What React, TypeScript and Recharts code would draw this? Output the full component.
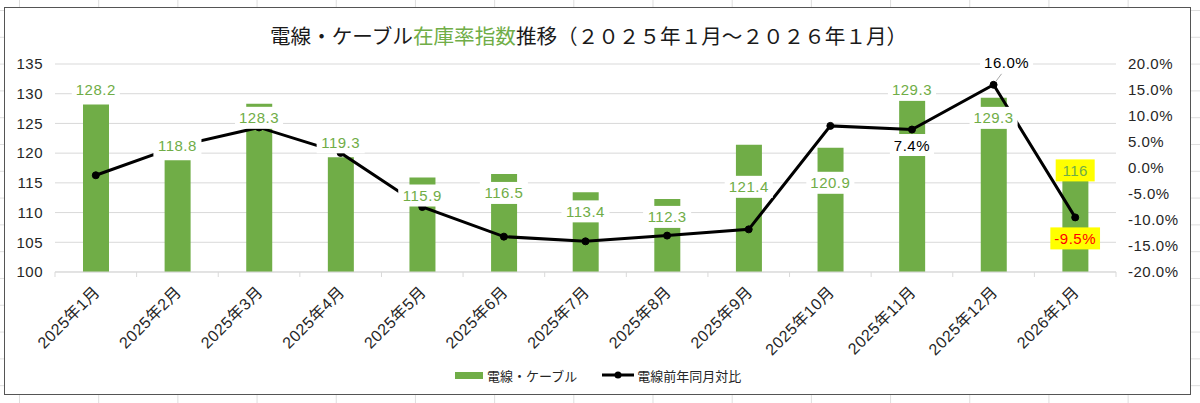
import React from "react";
import {
  ComposedChart,
  Bar,
  Line,
  XAxis,
  YAxis,
  CartesianGrid,
  LabelList,
  Legend,
} from "recharts";

const months = [
  "2025年1月",
  "2025年2月",
  "2025年3月",
  "2025年4月",
  "2025年5月",
  "2025年6月",
  "2025年7月",
  "2025年8月",
  "2025年9月",
  "2025年10月",
  "2025年11月",
  "2025年12月",
  "2026年1月",
];
const stockIndex = [128.2, 118.8, 128.3, 119.3, 115.9, 116.5, 113.4, 112.3, 121.4, 120.9, 129.3, 129.3, 116];
const yoyPct = [-1.4, 4.2, 7.8, 2.9, -7.5, -13.2, -14.1, -13.0, -11.8, 8.1, 7.4, 16.0, -9.5];
const leftTicks = [100, 105, 110, 115, 120, 125, 130, 135];
const rightTicks = [-20, -15, -10, -5, 0, 5, 10, 15, 20];

const BAR_NAME = "電線・ケーブル";
const LINE_NAME = "電線前年同月対比";

const GREEN = "#70AD47";
const TEXT = "#262626";
const FONT = "'Liberation Sans', Arial, 'Noto Sans CJK JP', sans-serif";
const CJK = "'Noto Sans CJK JP', sans-serif";

// chart geometry
const CHART_W = 1185;
const CHART_H = 386;
const LEFT_W = 50;
const RIGHT_W = 74;
const BAND = (CHART_W - LEFT_W - RIGHT_W) / months.length;

// hand placed label offsets (Excel labels were dragged around)
const stockLabelDy = [-15, -15, 14, -15, 18, 19, 19, 18, 42, 35, -8, 20, -6.5];
const yoyLabelPos: Record<number, { dx: number; dy: number }> = {
  10: { dx: 0, dy: 15.5 },
  11: { dx: 13, dy: -22.6 },
  12: { dx: 0, dy: 21 },
};

const rows = months.map((m, i) => ({ month: m, stock: stockIndex[i], yoy: yoyPct[i] }));

function textWidth(s: string) {
  let w = 0;
  for (const c of s) {
    if (c === ".") w += 4.2;
    else if (c === "%") w += 13.3;
    else if (c === "-") w += 5;
    else w += 8.34;
    w += 0.5;
  }
  return w;
}

function LabelBox({ cx, cy, text, color, bg, minW = 0 }: any) {
  const w = Math.max(textWidth(text) + 8, minW);
  return (
    <g>
      <rect x={cx - w / 2} y={cy - 11} width={w} height={22} fill={bg} />
      <text
        x={cx}
        y={cy}
        textAnchor="middle"
        dominantBaseline="central"
        fill={color}
        fontSize={15}
        fontFamily={FONT}
        letterSpacing={0.5}
      >
        {text}
      </text>
    </g>
  );
}

function StockLabel(props: any) {
  const { x, y, index, value } = props;
  const last = index === months.length - 1;
  return (
    <LabelBox
      cx={x}
      cy={y + stockLabelDy[index]}
      text={String(value)}
      color={GREEN}
      bg={last ? "#FFFF00" : "#fff"}
      minW={last ? 39 : 0}
    />
  );
}

function YoyLabel(props: any) {
  const { x, y, index, value } = props;
  const pos = yoyLabelPos[index];
  if (!pos) return null;
  const last = index === months.length - 1;
  return (
    <g>
      {index === 11 && (
        <line x1={x + 2} y1={y - 3} x2={x + 8} y2={y - 11} stroke="#a6a6a6" strokeWidth={1} />
      )}
      <LabelBox
        cx={x + pos.dx}
        cy={y + pos.dy}
        text={`${Number(value).toFixed(1)}%`}
        color={last ? "#FF0000" : "#000"}
        bg={last ? "#FFFF00" : "#fff"}
      />
    </g>
  );
}

function MonthTick(props: any) {
  const { x, y, payload, index } = props;
  const half = BAND / 2;
  const ax = x + 5;
  const ay = y + 21;
  return (
    <g>
      <line x1={x - half} x2={x - half} y1={y} y2={y + 5} stroke="#d9d9d9" />
      {index === months.length - 1 && (
        <line x1={x + half} x2={x + half} y1={y} y2={y + 5} stroke="#d9d9d9" />
      )}
      <text
        x={ax}
        y={ay}
        transform={`rotate(-45 ${ax} ${ay})`}
        textAnchor="end"
        fill={TEXT}
        fontSize={16}
        fontFamily={FONT}
        letterSpacing={0.5}
      >
        {payload.value}
      </text>
    </g>
  );
}

function LegendContent() {
  return (
    <div
      style={{
        display: "flex",
        alignItems: "center",
        height: 20,
        fontSize: 13,
        fontFamily: CJK,
        color: TEXT,
        whiteSpace: "nowrap",
      }}
    >
      <span style={{ display: "inline-block", width: 28, height: 7, background: GREEN, marginRight: 4 }} />
      <span>{BAR_NAME}</span>
      <svg width={32} height={10} style={{ marginLeft: 25, marginRight: 3 }}>
        <line x1={0} y1={5} x2={32} y2={5} stroke="#000" strokeWidth={3} />
        <circle cx={16} cy={5} r={3.5} fill="#000" />
      </svg>
      <span>{LINE_NAME}</span>
    </div>
  );
}

export default function App() {
  return (
    <div
      style={{
        position: "relative",
        width: 1200,
        height: 403,
        overflow: "hidden",
        backgroundColor: "#fff",
        backgroundImage:
          "linear-gradient(to right, #dedede 1px, transparent 1px), linear-gradient(to bottom, #dedede 1px, transparent 1px)",
        backgroundSize: "79.2px 100%, 100% 26.8px",
        backgroundPosition: "19px 0, 0 10px",
      }}
    >
      <style>{`body{margin:0}`}</style>
      <div
        style={{
          position: "absolute",
          left: 4,
          top: 7,
          width: CHART_W,
          height: CHART_H,
          border: "1px solid #555",
          background: "#fff",
        }}
      >
        <div
          style={{
            position: "absolute",
            left: 265,
            top: 16,
            fontSize: 20.6,
            lineHeight: "22px",
            fontFamily: CJK,
            color: "#1a1a1a",
            whiteSpace: "nowrap",
            zIndex: 2,
          }}
        >
          電線・ケーブル<span style={{ color: GREEN }}>在庫率指数</span>推移（２０２５年１月～２０２６年１月）
        </div>
        <ComposedChart
          width={CHART_W}
          height={CHART_H}
          data={rows}
          margin={{ top: 56, right: 0, bottom: 0, left: 0 }}
        >
          <CartesianGrid vertical={false} stroke="#d9d9d9" yAxisId="left" />
          <XAxis
            dataKey="month"
            height={122}
            interval={0}
            axisLine={{ stroke: "#d9d9d9" }}
            tickLine={false}
            tickSize={0}
            tickMargin={0}
            tick={<MonthTick />}
          />
          <YAxis
            yAxisId="left"
            width={LEFT_W}
            domain={[100, 135]}
            ticks={leftTicks}
            axisLine={false}
            tickLine={false}
            tickSize={0}
            tickMargin={12}
            tick={{ fill: TEXT, fontSize: 15, fontFamily: FONT, letterSpacing: 0.5 }}
          />
          <YAxis
            yAxisId="right"
            orientation="right"
            width={RIGHT_W}
            domain={[-20, 20]}
            ticks={rightTicks}
            axisLine={false}
            tickLine={false}
            tickSize={0}
            tickMargin={12}
            tickFormatter={(v: number) => `${v.toFixed(1)}%`}
            tick={{ fill: TEXT, fontSize: 15, fontFamily: FONT, letterSpacing: 0.5 }}
          />
          <Legend
            verticalAlign="middle"
            content={<LegendContent />}
            wrapperStyle={{ left: 450, top: 357, width: 320, height: 20 }}
          />
          <Bar
            dataKey="stock"
            name={BAR_NAME}
            yAxisId="left"
            fill={GREEN}
            barSize={26}
            isAnimationActive={false}
          />
          <Line
            dataKey="yoy"
            name={LINE_NAME}
            yAxisId="right"
            stroke="#000"
            strokeWidth={3}
            dot={{ r: 3.5, fill: "#000", stroke: "#000", strokeWidth: 1 }}
            activeDot={false}
            isAnimationActive={false}
          >
            <LabelList dataKey="yoy" content={<YoyLabel />} />
          </Line>
          {/* invisible carrier so bar labels sit above the line */}
          <Line
            dataKey="stock"
            yAxisId="left"
            stroke="none"
            dot={false}
            activeDot={false}
            legendType="none"
            isAnimationActive={false}
          >
            <LabelList dataKey="stock" content={<StockLabel />} />
          </Line>
        </ComposedChart>
      </div>
    </div>
  );
}
